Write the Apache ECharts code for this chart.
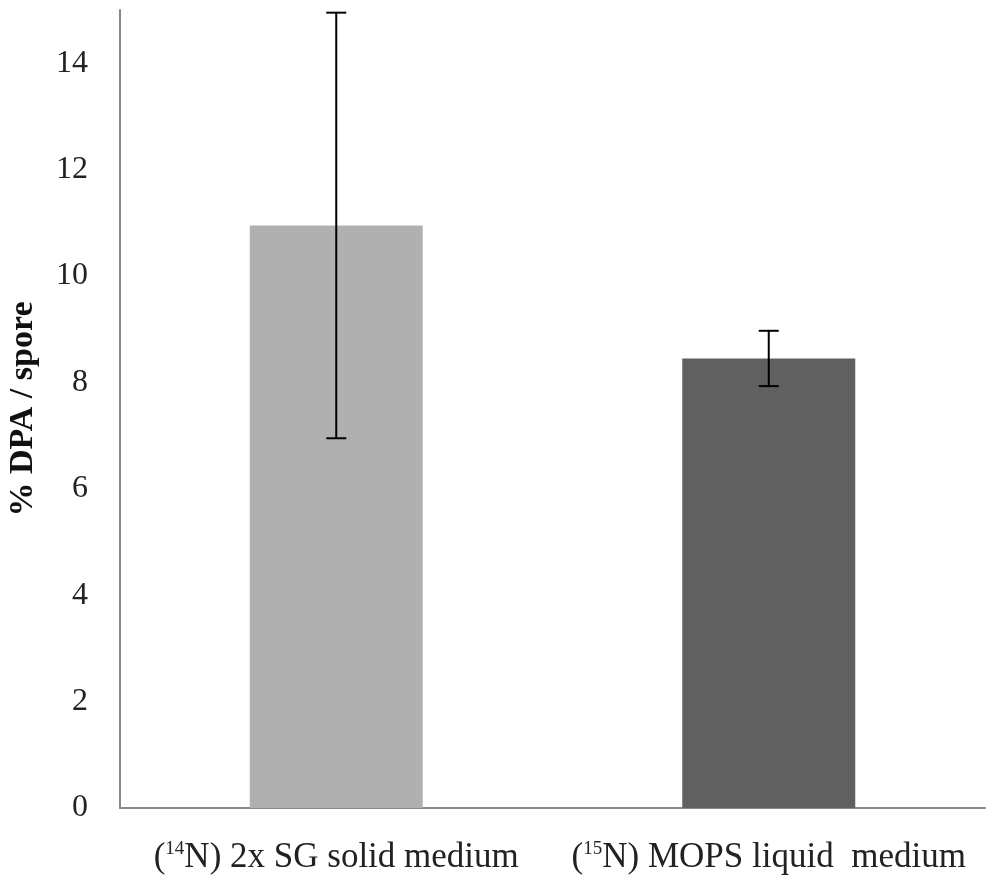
<!DOCTYPE html>
<html style="height: 100%">
<head>
    <meta charset="utf-8">
</head>
<body style="height: 100%; margin: 0; background: #fff">
<div id="container" style="width: 1000px; height: 896px"></div>
<script type="text/javascript" src="https://cdn.jsdelivr.net/npm/echarts@6/dist/echarts.min.js"></script>
<script type="text/javascript">
    var dom = document.getElementById("container");
    var myChart = echarts.init(dom);

    // categories (isotope, rest of label)
    var isotopes = ['14', '15'];
    var categories = ['N) 2x SG solid medium', 'N) MOPS liquid  medium'];
    // mean % DPA per spore
    var values = [10.95, 8.45];
    // error bar (+/-)
    var errors = [4.0, 0.52];
    var barColors = ['#b0b0b0', '#606060'];

    var yTicks = { min: 0, max: 15, interval: 2 };

    var catLabels = [];
    for (var i = 0; i < categories.length; i++) {
        catLabels.push('(' + '{sup|' + isotopes[i] + '}' + categories[i]);
    }

    var errData = [];
    for (var i = 0; i < values.length; i++) {
        errData.push([i, values[i] - errors[i], values[i] + errors[i]]);
    }

    function renderError(params, api) {
        var x = api.value(0);
        var lo = api.coord([x, api.value(1)]);
        var hi = api.coord([x, api.value(2)]);
        var half = 10;
        var style = { stroke: '#000', lineWidth: 2 };
        return {
            type: 'group',
            children: [
                { type: 'line', shape: { x1: hi[0], y1: hi[1], x2: lo[0], y2: lo[1] }, style: style },
                { type: 'line', shape: { x1: hi[0] - half, y1: hi[1], x2: hi[0] + half, y2: hi[1] }, style: style },
                { type: 'line', shape: { x1: lo[0] - half, y1: lo[1], x2: lo[0] + half, y2: lo[1] }, style: style }
            ]
        };
    }

    var option = {
        animation: false,
        backgroundColor: '#fff',
        grid: {
            left: 120,
            right: 15,
            top: 10,
            bottom: 88,
            outerBoundsMode: 'none'
        },
        xAxis: {
            type: 'category',
            data: catLabels,
            axisLine: { lineStyle: { color: '#888', width: 2 } },
            axisTick: { show: false },
            axisLabel: {
                interval: 0,
                margin: 32,
                fontFamily: 'Liberation Serif',
                fontSize: 35,
                color: '#222',
                rich: {
                    sup: {
                        fontFamily: 'Liberation Serif',
                        fontSize: 19,
                        color: '#222',
                        verticalAlign: 'top',
                        padding: [0, 0, 15, 0]
                    }
                }
            }
        },
        yAxis: {
            type: 'value',
            min: yTicks.min,
            max: yTicks.max,
            interval: yTicks.interval,
            name: '% DPA / spore',
            nameLocation: 'middle',
            nameGap: 80,
            nameTextStyle: {
                fontFamily: 'Liberation Serif',
                fontWeight: 'bold',
                fontSize: 34,
                color: '#111'
            },
            axisLine: { show: true, lineStyle: { color: '#888', width: 2 } },
            axisTick: { show: false },
            splitLine: { show: false },
            axisLabel: {
                showMaxLabel: false,
                margin: 32,
                fontFamily: 'Liberation Serif',
                fontSize: 32,
                color: '#222'
            }
        },
        series: [{
            type: 'bar',
            barWidth: '40%',
            data: values.map(function (v, i) {
                return { value: v, itemStyle: { color: barColors[i] } };
            }),
            z: 2
        }, {
            type: 'custom',
            renderItem: renderError,
            encode: { x: 0, y: [1, 2] },
            data: errData,
            z: 10
        }]
    };

    myChart.setOption(option, true);
</script>
</body>
</html>
